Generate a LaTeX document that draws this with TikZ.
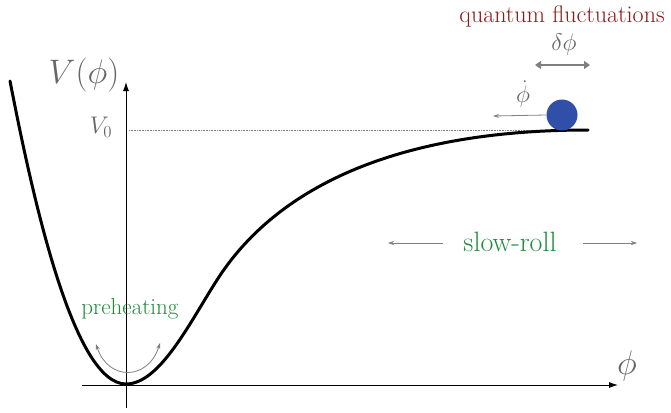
\RequirePackage{fix-cm}
\documentclass[tikz,border=0pt]{standalone}
\usetikzlibrary{arrows.meta}
\definecolor{darkred}{HTML}{8B1A1A}
\definecolor{dgreen}{HTML}{1E8C3A}
\definecolor{ballblue}{HTML}{2F4FA8}
\definecolor{agray}{HTML}{808080}
\definecolor{tgray}{HTML}{666666}
\tikzset{
  axis/.style={line width=0.9pt,-{Latex[length=9pt,width=6pt]}},
  curve/.style={line width=3pt,line join=round,line cap=round},
  garrow/.style={agray,line width=0.8pt,-{Stealth[length=6pt,width=4pt]}},
  lbl/.style={inner sep=0pt,anchor=center}
}
\begin{document}
\begin{tikzpicture}[x=1pt,y=-1pt]
\useasboundingbox (0,0) rectangle (671,412);
% axes
\coordinate (yb) at (126,408);
\coordinate (yt) at (126,82);
\coordinate (xl) at (82,385);
\coordinate (xr) at (618,385);
\draw[axis] (yb) -- (yt);
\draw[axis] (xl) -- (xr);
\node[lbl,tgray,font=\fontsize{34}{34}\selectfont] (vl) at (84,75) {$V(\phi)$};
\node[lbl,tgray,font=\fontsize{34}{34}\selectfont] (pl) at (627,366) {$\phi$};
\node[lbl,tgray,font=\fontsize{24}{24}\selectfont] (v0) at (101,127) {$V_0$};
\coordinate (d0) at (129,130);
\coordinate (d1) at (556,130);
\draw[gray,densely dotted,line width=0.6pt] (d0) -- (d1);
% potential
\coordinate (c0) at (10,81);
\coordinate (cmin) at (126,384);
\coordinate (cinf) at (217,280);
\coordinate (cend) at (588,130);
\draw[curve] (c0) .. controls (35,210) and (75,384) .. (cmin)
  .. controls (160,384) and (190,322) .. (cinf)
  .. controls (270,197) and (380,130) .. (cend);
% ball
\node[circle,fill=ballblue,minimum size=31pt,inner sep=0pt] (ball) at (562,115) {};
\coordinate (pd) at (493,116);
\draw[garrow] (ball.west) -- (pd);
\node[lbl,tgray,font=\fontsize{24}{24}\selectfont] (pdl) at (523,94) {$\dot\phi$};
% fluctuations
\coordinate (fa) at (535,65);
\coordinate (fb) at (590,65);
\draw[agray,line width=2pt,{Triangle[length=6pt,width=8pt]}-{Triangle[length=6pt,width=8pt]}] (fa) -- (fb);
\node[lbl,tgray,font=\fontsize{24}{24}\selectfont] (dpl) at (564,44) {$\delta\phi$};
\node[lbl,darkred,font=\fontsize{24}{24}\selectfont] (qf) at (562,16) {quantum fluctuations};
% slow-roll
\node[lbl,dgreen,font=\fontsize{28}{28}\selectfont] (sr) at (510,242) {slow-roll};
\coordinate (sla) at (443,243);
\coordinate (slb) at (388,243);
\coordinate (sra) at (583,243);
\coordinate (srb) at (637,243);
\draw[garrow,line width=0.6pt] (sla) -- (slb);
\draw[garrow,line width=0.6pt] (sra) -- (srb);
% preheating
\node[lbl,dgreen,font=\fontsize{23}{23}\selectfont] (ph) at (130,309) {preheating};
\coordinate (pa) at (96,344);
\coordinate (pb) at (160,343);
\draw[agray,line width=0.8pt,{Stealth[length=6pt,width=4pt]}-{Stealth[length=6pt,width=4pt]}] (pa) .. controls (108,381) and (148,381) .. (pb);
\end{tikzpicture}
\end{document}
